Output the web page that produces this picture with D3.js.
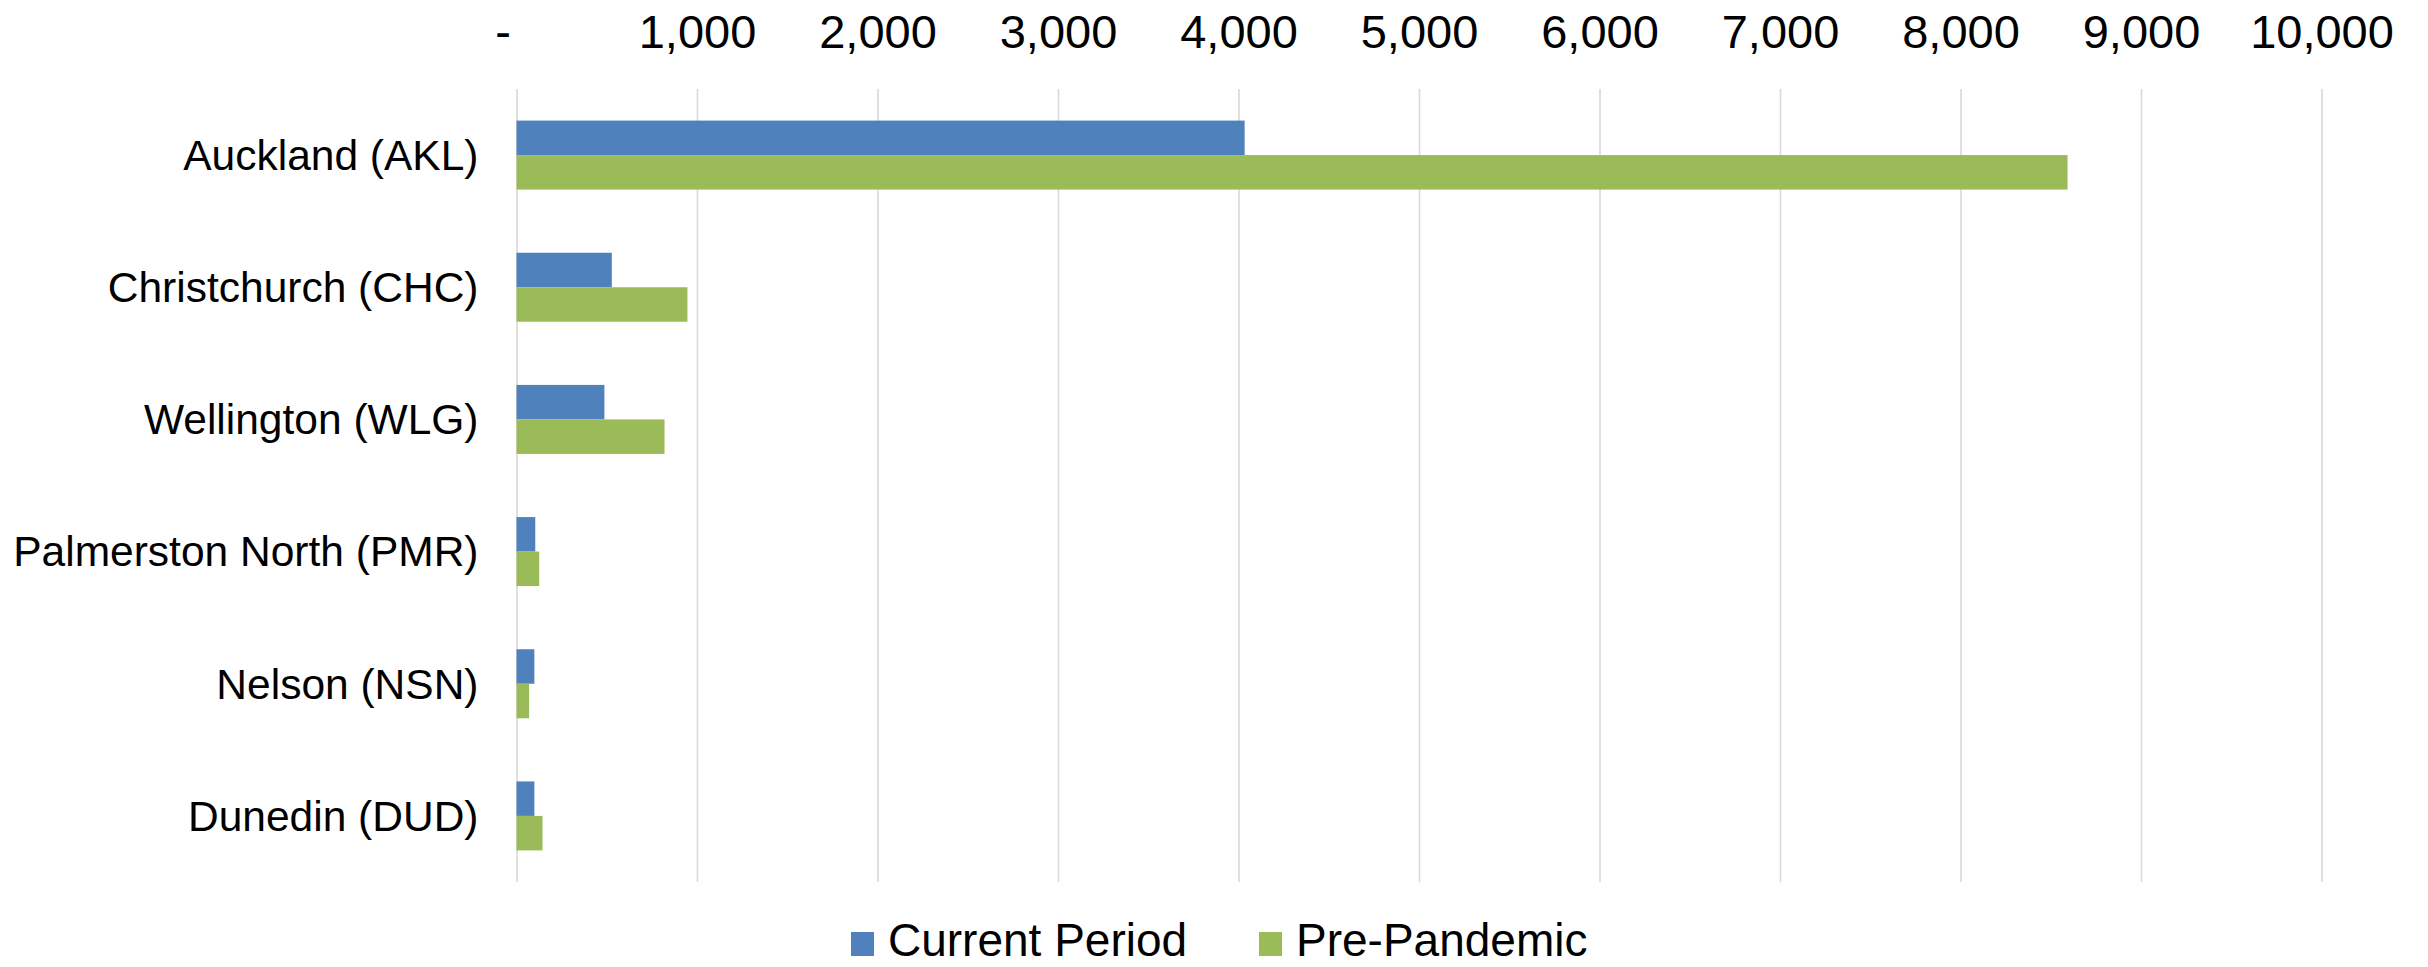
<!DOCTYPE html>
<meta charset="utf-8">
<style>
  body { margin: 0; background: #fff; }
  svg text { font-family: "Liberation Sans", Arial, sans-serif; fill: #000; }
</style>
<body></body>
<script src="https://d3js.org/d3.v7.min.js"></script>
<script>

var categories = ["Auckland (AKL)", "Christchurch (CHC)", "Wellington (WLG)",
                  "Palmerston North (PMR)", "Nelson (NSN)", "Dunedin (DUD)"];
var seriesNames = ["Current Period", "Pre-Pandemic"];
var currentPeriod = [4034, 528, 487, 104, 99, 99];
var prePandemic = [8593, 947, 820, 126, 70, 144];
var xTicks = [0, 1000, 2000, 3000, 4000, 5000, 6000, 7000, 8000, 9000, 10000];

var width = 2428,
    height = 967,
    plotLeft = 516.5,
    plotRight = 2321.5,
    plotTop = 89,
    plotBottom = 882;

var colors = ["#4f81bd", "#9bbb59"];

var svg = d3.select("body").append("svg")
    .attr("width", width)
    .attr("height", height);

var x = d3.scaleLinear().domain([0, 10000]).range([plotLeft, plotRight]);

var y = d3.scaleBand()
    .domain(categories)
    .range([plotTop, plotBottom])
    .paddingInner(0.478)
    .paddingOuter(0.239);

var ySub = d3.scaleBand()
    .domain(seriesNames)
    .range([0, y.bandwidth()]);

// axis on top, ticks turned into gridlines
var xAxis = d3.axisTop(x)
    .tickValues(xTicks)
    .tickSizeInner(-(plotBottom - plotTop))
    .tickSizeOuter(0)
    .tickPadding(41)
    .tickFormat(function(d) { return d === 0 ? "-" : d3.format(",")(d); });

var ax = svg.append("g")
    .attr("transform", "translate(0," + plotTop + ")")
    .call(xAxis);

ax.select(".domain").remove();
ax.selectAll(".tick line")
    .attr("stroke", "#d9d9d9")
    .attr("stroke-width", 1.6);
ax.selectAll(".tick text")
    .style("font-size", "47px")
    .attr("fill", "#000")
    .attr("dx", function(d) { return d === 0 ? -14 : 0; });

var rows = categories.map(function(c, i) {
  return { cat: c, values: [currentPeriod[i], prePandemic[i]] };
});

var groups = svg.append("g").selectAll("g")
    .data(rows)
  .enter().append("g")
    .attr("transform", function(d) { return "translate(0," + y(d.cat) + ")"; });

groups.selectAll("rect")
    .data(function(d) { return d.values.map(function(v, j) { return { name: seriesNames[j], value: v, j: j }; }); })
  .enter().append("rect")
    .attr("x", x(0))
    .attr("y", function(d) { return ySub(d.name); })
    .attr("width", function(d) { return x(d.value) - x(0); })
    .attr("height", ySub.bandwidth())
    .attr("fill", function(d) { return colors[d.j]; });

// category labels
svg.append("g").selectAll("text")
    .data(categories)
  .enter().append("text")
    .attr("x", plotLeft - 38)
    .attr("y", function(d) { return y(d) + y.bandwidth() / 2; })
    .attr("dy", "0.35em")
    .attr("text-anchor", "end")
    .style("font-size", "42.5px")
    .text(function(d) { return d; });

// legend
var legendX = [851, 1259];
var legend = svg.append("g").selectAll("g")
    .data(seriesNames)
  .enter().append("g")
    .attr("transform", function(d, i) { return "translate(" + legendX[i] + ",932)"; });

legend.append("rect")
    .attr("width", 23)
    .attr("height", 24)
    .attr("fill", function(d, i) { return colors[i]; });

legend.append("text")
    .attr("x", 37)
    .attr("y", 24)
    .style("font-size", "46px")
    .text(function(d) { return d; });

</script>
